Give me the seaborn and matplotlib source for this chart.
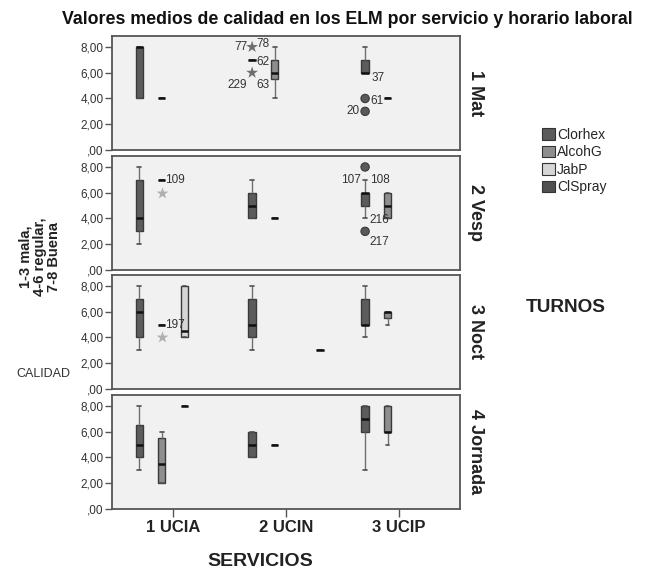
import numpy as np
import pandas as pd
import matplotlib
matplotlib.use("Agg")
import matplotlib.pyplot as plt
import seaborn as sns
from matplotlib.patches import Patch

sns.set_theme(style="white")
plt.rcParams['font.family'] = ['Liberation Sans', 'DejaVu Sans']

# ---------------- data ----------------
titulo = "Valores medios de calidad en los ELM por servicio y horario laboral"
turnos = ["1 Mat", "2 Vesp", "3 Noct", "4 Jornada"]
servicios = ["1 UCIA", "2 UCIN", "3 UCIP"]
productos = ["Clorhex", "AlcohG", "JabP", "ClSpray"]
ytick_vals = [0, 2, 4, 6, 8]
ytick_labels = [",00", "2,00", "4,00", "6,00", "8,00"]

# box cells: values (low whisker, Q1, median, Q3, high whisker)
box_turno = ["1 Mat", "1 Mat", "1 Mat", "1 Mat", "1 Mat", "1 Mat",
             "2 Vesp", "2 Vesp", "2 Vesp", "2 Vesp", "2 Vesp", "2 Vesp",
             "3 Noct", "3 Noct", "3 Noct", "3 Noct", "3 Noct", "3 Noct", "3 Noct",
             "4 Jornada", "4 Jornada", "4 Jornada", "4 Jornada", "4 Jornada", "4 Jornada", "4 Jornada"]
box_servicio = ["1 UCIA", "1 UCIA", "2 UCIN", "2 UCIN", "3 UCIP", "3 UCIP",
                "1 UCIA", "1 UCIA", "2 UCIN", "2 UCIN", "3 UCIP", "3 UCIP",
                "1 UCIA", "1 UCIA", "1 UCIA", "2 UCIN", "2 UCIN", "3 UCIP", "3 UCIP",
                "1 UCIA", "1 UCIA", "1 UCIA", "2 UCIN", "2 UCIN", "3 UCIP", "3 UCIP"]
box_producto = ["Clorhex", "AlcohG", "Clorhex", "AlcohG", "Clorhex", "AlcohG",
                "Clorhex", "AlcohG", "Clorhex", "AlcohG", "Clorhex", "AlcohG",
                "Clorhex", "AlcohG", "JabP", "Clorhex", "ClSpray", "Clorhex", "AlcohG",
                "Clorhex", "AlcohG", "JabP", "Clorhex", "AlcohG", "Clorhex", "AlcohG"]
box_valores = [[4, 4, 8, 8, 8], [4], [7], [4, 5.5, 6, 7, 8], [6, 6, 6, 7, 8], [4],
               [2, 3, 4, 7, 8], [7], [4, 4, 5, 6, 7], [4], [4, 5, 6, 6, 7], [4, 4, 5, 6, 6],
               [3, 4, 6, 7, 8], [5], [4, 4, 4.5, 8, 8], [3, 4, 5, 7, 8], [3], [4, 5, 5, 7, 8], [5, 5.5, 6, 6, 6],
               [3, 4, 5, 6.5, 8], [2, 2, 3.5, 5.5, 6], [8], [4, 4, 5, 6, 6], [5], [3, 6, 7, 8, 8], [5, 6, 6, 8, 8]]

# outliers (atipico = circle, extremo = star)
out_turno = ["1 Mat", "1 Mat", "1 Mat", "1 Mat", "2 Vesp", "2 Vesp", "2 Vesp", "3 Noct"]
out_servicio = ["2 UCIN", "2 UCIN", "3 UCIP", "3 UCIP", "1 UCIA", "3 UCIP", "3 UCIP", "1 UCIA"]
out_producto = ["Clorhex", "Clorhex", "Clorhex", "Clorhex", "AlcohG", "Clorhex", "Clorhex", "AlcohG"]
out_valor = [8, 6, 4, 3, 6, 8, 3, 4]
out_tipo = ["extremo", "extremo", "atipico", "atipico", "extremo", "atipico", "atipico", "extremo"]

# case labels
lab_turno = ["1 Mat"] * 8 + ["2 Vesp"] * 5 + ["3 Noct"]
lab_servicio = ["2 UCIN"] * 5 + ["3 UCIP"] * 3 + ["1 UCIA"] + ["3 UCIP"] * 4 + ["1 UCIA"]
lab_producto = ["Clorhex"] * 8 + ["AlcohG"] + ["Clorhex"] * 4 + ["AlcohG"]
lab_valor = [8, 8, 7, 6, 6, 6, 4, 3, 7, 8, 8, 4, 3, 5]
lab_texto = ["77", "78", "62", "229", "63", "37", "61", "20", "109", "107", "108", "216", "217", "197"]
# label placement (pixels offset from anchor, alignment)
lab_dx = [-4, 4, 4, -5, 4, 6, 5, -6, 3, -4, 5, 4, 4, 3]
lab_dy = [0, 3, -2, -12, -12, -5, -3, 0, 0, -13, -13, -2, -11, 0]
lab_ha = ["right", "left", "left", "right", "left", "left", "left", "right",
          "left", "right", "left", "left", "left", "left"]

# ---------------- tables ----------------
rows = []
for t, s, p, vals in zip(box_turno, box_servicio, box_producto, box_valores):
    for v in vals:
        rows.append((t, s, p, v))
box_df = pd.DataFrame(rows, columns=["turno", "servicio", "producto", "calidad"])
out_df = pd.DataFrame({"turno": out_turno, "servicio": out_servicio,
                       "producto": out_producto, "calidad": out_valor, "tipo": out_tipo})

pal = {"Clorhex": "#5c5c5c", "AlcohG": "#8e8e8e", "JabP": "#d6d6d6", "ClSpray": "#505050"}
out_pal_circ = {"Clorhex": "#5a5a5a", "AlcohG": "#5a5a5a", "JabP": "#5a5a5a", "ClSpray": "#5a5a5a"}
out_pal_star = {"Clorhex": "#6e6e6e", "AlcohG": "#b0b0b0", "JabP": "#b0b0b0", "ClSpray": "#6e6e6e"}

# ---------------- figure ----------------
W, H = 652, 569
fig = plt.figure(figsize=(W / 100, H / 100), dpi=100)
fig.patch.set_facecolor("white")

left_px, right_px = 112, 460
tops = [36, 156, 275, 395]
ph = 114
width = 0.8
nh = len(productos)
hue_off = {p: -width / 2 + width / nh * (i + 0.5) for i, p in enumerate(productos)}

for i, t in enumerate(turnos):
    ax = fig.add_axes([left_px / W, 1 - (tops[i] + ph) / H, (right_px - left_px) / W, ph / H])
    sub = box_df[box_df.turno == t]
    sns.boxplot(data=sub, x="servicio", y="calidad", hue="producto",
                order=servicios, hue_order=productos, palette=pal, saturation=1,
                width=width, gap=0.68, whis=(0, 100), fliersize=0, linewidth=1.0,
                linecolor="#3a3a3a", legend=False, ax=ax,
                medianprops=dict(color="#111111", linewidth=1.8),
                whiskerprops=dict(color="#707070", linewidth=1.0),
                capprops=dict(color="#505050", linewidth=1.2))
    o = out_df[out_df.turno == t]
    for tipo, marker, size, opal, lw in [("atipico", "o", 6, out_pal_circ, 0.8),
                                         ("extremo", "*", 9, out_pal_star, 0)]:
        s = o[o.tipo == tipo]
        if len(s):
            sns.stripplot(data=s, x="servicio", y="calidad", hue="producto",
                          order=servicios, hue_order=productos, palette=opal,
                          dodge=True, jitter=False, marker=marker, size=size,
                          linewidth=lw, edgecolor="#3a3a3a", legend=False, ax=ax,
                          zorder=5)
    for lt, ls, lp, lv, tx, dx, dy, ha in zip(lab_turno, lab_servicio, lab_producto, lab_valor,
                                               lab_texto, lab_dx, lab_dy, lab_ha):
        if lt != t:
            continue
        xpos = servicios.index(ls) + hue_off[lp]
        ax.annotate(tx, xy=(xpos, lv), xytext=(dx * 0.72, dy * 0.72),
                    textcoords="offset points", ha=ha, va="center",
                    fontsize=8.5, color="#333333", zorder=6)

    ax.set_facecolor("#f1f1f1")
    for sp in ax.spines.values():
        sp.set_color("#555555")
        sp.set_linewidth(1.3)
        sp.set_visible(True)
    ax.set_xlim(-0.54, 2.54)
    ax.set_ylim(0, 8.85)
    ax.set_yticks(ytick_vals)
    ax.set_yticklabels(ytick_labels)
    ax.tick_params(axis="y", left=True, length=5, width=1.0, color="#555555",
                   labelsize=8.5, labelcolor="#333333", pad=1)
    ax.set_xlabel("")
    ax.set_ylabel("")
    if i == len(turnos) - 1:
        ax.set_xticks(range(len(servicios)))
        ax.set_xticklabels(servicios, fontweight="bold", fontsize=12, color="#222222")
        ax.tick_params(axis="x", bottom=True, length=6, width=1.0, color="#555555", pad=2)
    else:
        ax.set_xticks([])
    ax.text(1.045, 0.5, t, transform=ax.transAxes, rotation=270, ha="center", va="center",
            fontweight="bold", fontsize=13, color="#222222")

handles = [Patch(facecolor=pal[p], edgecolor="#333333", linewidth=0.8, label=p) for p in productos]
fig.legend(handles=handles, loc="upper left", bbox_to_anchor=(542 / W, 1 - 128 / H),
           frameon=False, handlelength=0.9, handleheight=0.9, handletextpad=0.2,
           labelspacing=0.25, fontsize=10, borderpad=0, borderaxespad=0)

fig.text(347 / W, 1 - 20 / H, titulo, ha="center", va="center", fontweight="bold",
         fontsize=12.8, color="#111111")
fig.text(566 / W, 1 - 308 / H, "TURNOS", ha="center", va="center", fontweight="bold",
         fontsize=13.7, color="#222222")
fig.text(260 / W, 1 - 561 / H, "SERVICIOS", ha="center", va="center", fontweight="bold",
         fontsize=14, color="#222222")
fig.text(40 / W, 1 - 257 / H, "1-3 mala,\n4-6 regular,\n7-8 Buena", rotation=90,
         ha="center", va="center", multialignment="center", fontweight="bold",
         fontsize=10.5, linespacing=1.0, color="#222222")
fig.text(43 / W, 1 - 374 / H, "CALIDAD", ha="center", va="center", fontsize=9,
         color="#333333")

fig.savefig("out.png", dpi=100, facecolor="white")
